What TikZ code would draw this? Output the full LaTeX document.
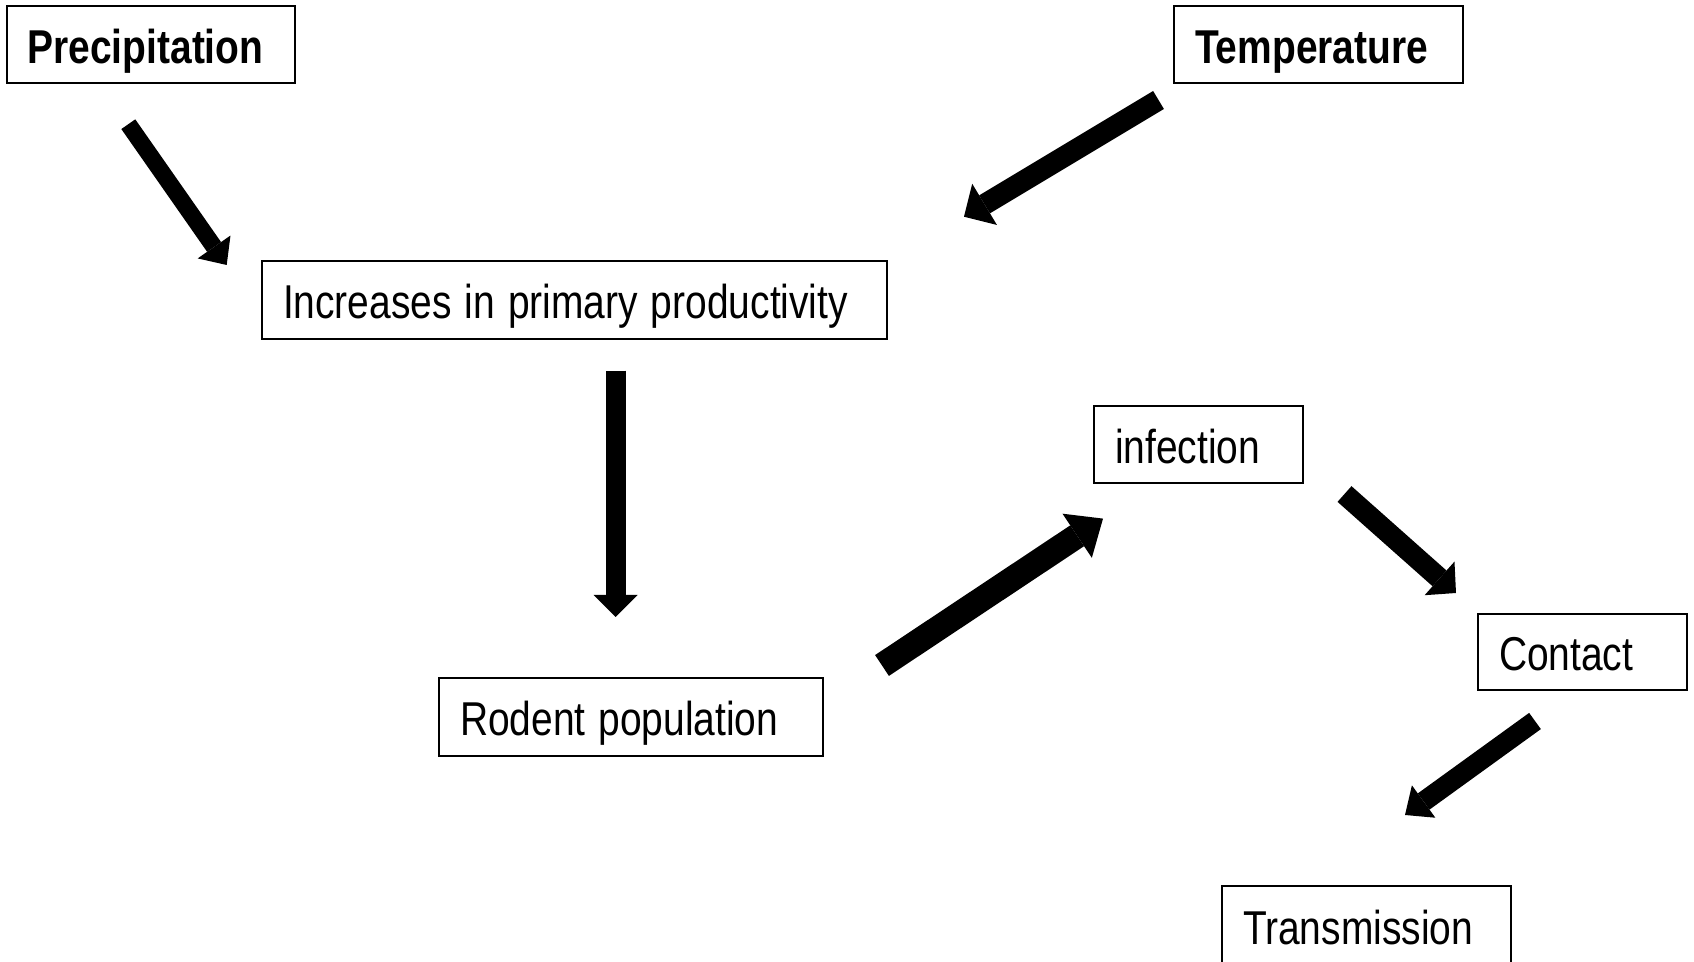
\documentclass[tikz,border=0pt]{standalone}
\usepackage{fontspec}
\setmainfont{Liberation Sans}[FakeStretch=0.82]
\usetikzlibrary{arrows.meta}
% narrow sans at the stage size, with word spaces narrowed to match
\newcommand{\stagefont}{\fontsize{23.75}{28}\selectfont\fontdimen2\font=6.5pt\relax}
\newcommand{\stagefontbold}{\fontsize{23.75}{28}\selectfont\bfseries\fontdimen2\font=6.5pt\relax}
\begin{document}
\begin{tikzpicture}[x=0.5pt,y=-0.5pt,
  stage/.style={draw=black, line width=1pt, inner xsep=10.5pt, inner ysep=0pt,
    minimum height=38.5pt, text height=21pt, text depth=2pt, align=flush left,
    font=\stagefont},
  blockarrow/.style n args={3}{draw=black, line width=#1,
    -{Triangle[width=#2,length=#3,line width=0pt]}}
]
% page
\fill[white] (0,0) rectangle (1694,962);
\useasboundingbox (0,0) rectangle (1694,962);

% stages
\node[stage, text width=123.25pt, font=\stagefontbold] (prec) at (150.75,44.75) {Precipitation};
\node[stage, text width=123.5pt, font=\stagefontbold] (temp) at (1318.5,44.75) {Temperature};
\node[stage, text width=291.5pt, minimum height=39pt] (prod) at (574.5,300) {Increases in primary productivity};
\node[stage, text width=171pt, minimum height=39pt] (rodent) at (631,717) {Rodent population};
\node[stage, text width=83.5pt] (infect) at (1198.5,444.5) {infection};
\node[stage, text width=83.5pt, minimum height=38pt] (contact) at (1582.5,652) {Contact};
\node[stage, text width=123.5pt, minimum height=39pt] (trans) at (1366.5,925) {Transmission};

% arrow ends
\coordinate (a1s) at (128.3,124.2);  \coordinate (a1e) at (226.7,265);
\coordinate (a2s) at (1158.5,100);   \coordinate (a2e) at (964,216.7);
\coordinate (a3s) at (615.5,370.6);  \coordinate (a3e) at (615.5,617);
\coordinate (a4s) at (882,665.5);    \coordinate (a4e) at (1103,518.6);
\coordinate (a5s) at (1344.5,494);   \coordinate (a5e) at (1456,593);
\coordinate (a6s) at (1535,721);     \coordinate (a6e) at (1405,815);

% arrows
\draw[blockarrow={8.5pt}{20pt}{11pt}] (a1s) -- (a1e);
\draw[blockarrow={10.5pt}{24pt}{12pt}] (a2s) -- (a2e);
\draw[blockarrow={10pt}{22pt}{11pt}] (a3s) -- (a3e);
\draw[blockarrow={12.5pt}{26.5pt}{15.5pt}] (a4s) -- (a4e);
\draw[blockarrow={10.5pt}{22.5pt}{11pt}] (a5s) -- (a5e);
\draw[blockarrow={10pt}{20pt}{11.5pt}] (a6s) -- (a6e);
\end{tikzpicture}
\end{document}
